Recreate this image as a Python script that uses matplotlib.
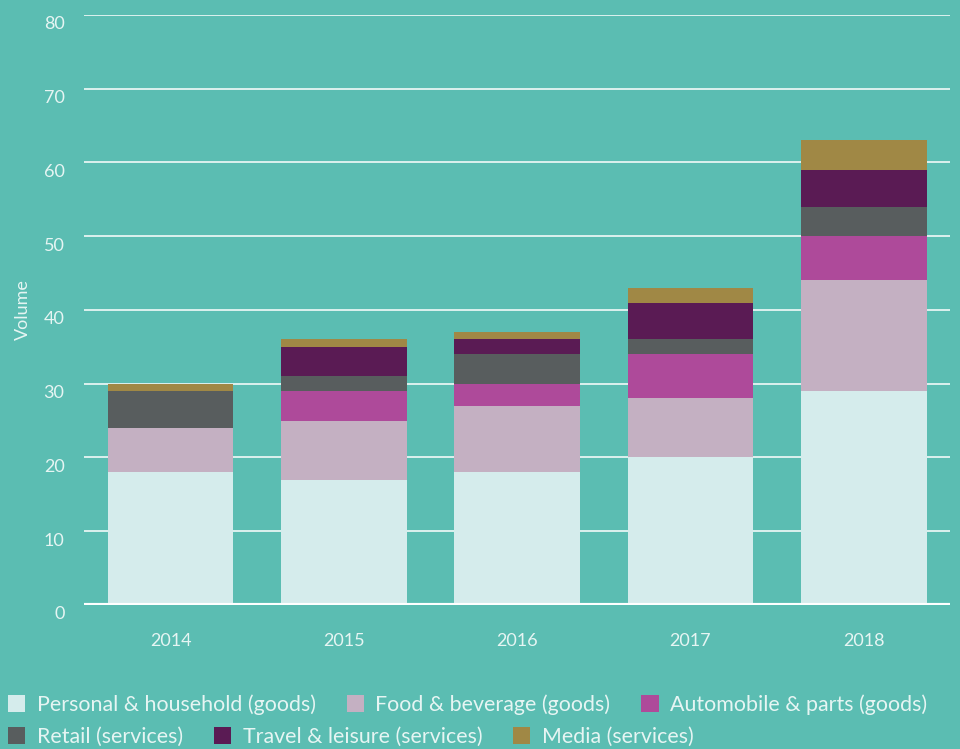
import numpy as np
import matplotlib.pyplot as plt
import matplotlib.transforms as mtransforms
from matplotlib.patches import Patch

years = ["2014", "2015", "2016", "2017", "2018"]
personal = [18, 17, 18, 20, 29]
food = [6, 8, 9, 8, 15]
auto = [0, 4, 3, 6, 6]
retail = [5, 2, 4, 2, 4]
travel = [0, 4, 2, 5, 5]
media = [1, 1, 1, 2, 4]

names = ["Personal & household (goods)", "Food & beverage (goods)", "Automobile & parts (goods)",
         "Retail (services)", "Travel & leisure (services)", "Media (services)"]
colors = ["#d5ecec", "#c4b0c2", "#ae4a9a", "#585d5e", "#5a1b54", "#a08845"]
bg = "#5bbdb2"
txt = "#e6f5f3"

plt.rcParams['font.family'] = ['Lato', 'DejaVu Sans']

fig = plt.figure(figsize=(9.6, 7.49), dpi=100, facecolor=bg)
ax = fig.add_axes([0.0875, 0.1923, 0.9025, 0.7877], facecolor=bg)

x = np.arange(len(years))
series = [personal, food, auto, retail, travel, media]
bottom = np.zeros(len(years))
for vals, c in zip(series, colors):
    ax.bar(x, vals, bottom=bottom, width=0.725, color=c, zorder=3)
    bottom += np.array(vals)

ax.set_xlim(-0.5, 4.5)
ax.set_ylim(0, 80)
ax.set_yticks(range(0, 81, 10))
ax.set_xticks(x)
ax.set_xticklabels(years)
for t in range(10, 81, 10):
    ax.axhline(t, color="#e6f5f3", lw=1.3, zorder=1)
ax.axhline(0, color="white", lw=3, zorder=4)
for s in ax.spines.values():
    s.set_visible(False)
ax.tick_params(length=0, colors=txt, labelsize=13)
ax.tick_params(axis='y', pad=14)
ax.tick_params(axis='x', pad=20)
# y labels sit a little below their gridlines
off = mtransforms.ScaledTranslation(0, -8 / 100, fig.dpi_scale_trans)
for lab in ax.get_yticklabels():
    lab.set_transform(lab.get_transform() + off)
ax.set_ylabel("Volume", color=txt, fontsize=13, labelpad=9)

h = [Patch(facecolor=c, edgecolor='none') for c in colors]
kw = dict(frameon=False, fontsize=15.4, labelcolor=txt, handlelength=0.8, handleheight=0.8,
          handletextpad=0.55, columnspacing=1.45, borderaxespad=0, borderpad=0)
fig.legend(h[:3], names[:3], ncol=3, loc='center left', bbox_to_anchor=(0.008, 0.059), **kw)
fig.legend(h[3:], names[3:], ncol=3, loc='center left', bbox_to_anchor=(0.008, 0.016), **kw)

fig.savefig("out.png", dpi=100, facecolor=bg)
